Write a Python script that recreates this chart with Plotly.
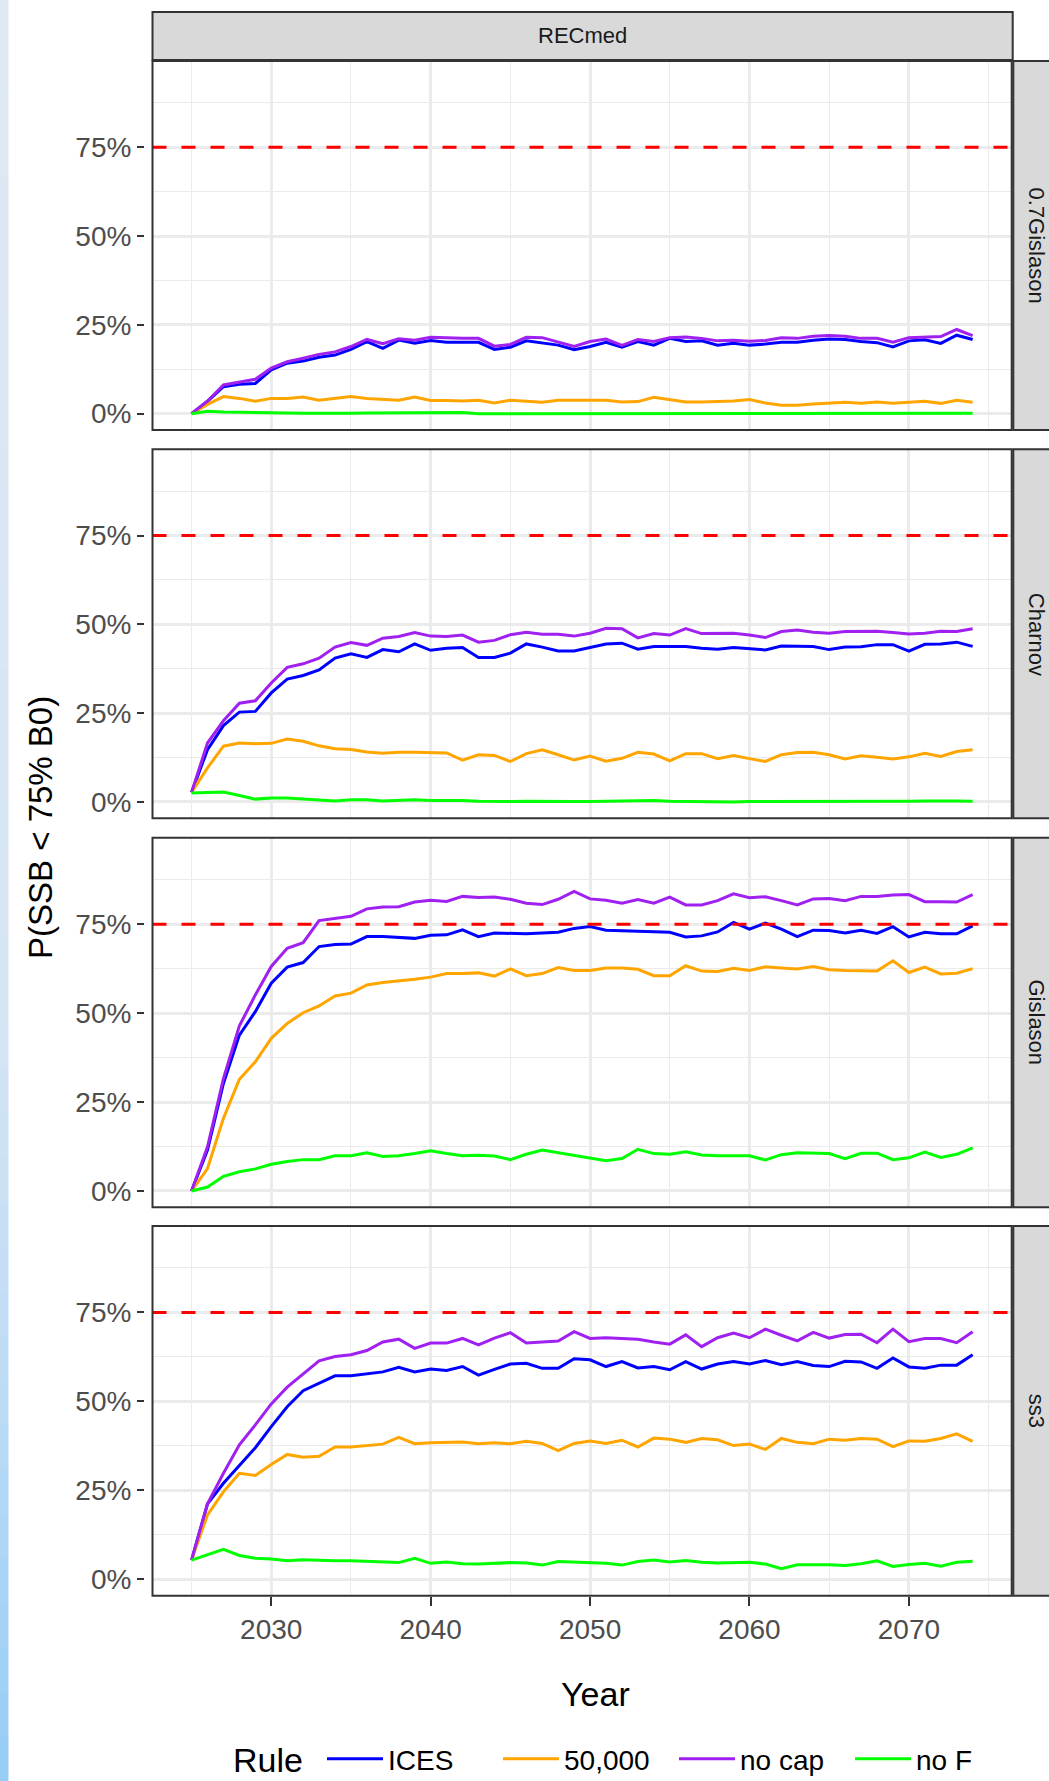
import plotly.graph_objects as go

# ---------------- data ----------------
YEARS = list(range(2025, 2075))
RULES = ["ICES", "50,000", "no cap", "no F"]
RULE_COLORS = ["#0000FF", "#FFA500", "#A020F0", "#00FF00"]
MODELS = ["0.7Gislason", "Charnov", "Gislason", "ss3"]
SCENARIO = "RECmed"
THRESHOLD = 0.75
X_TICKS = [2030, 2040, 2050, 2060, 2070]
Y_TICKS = [0, 0.25, 0.5, 0.75]

# values in percent, P(SSB < 75% B0)
g07_ices = [0, 3.5, 7.6, 8.3, 8.5, 12.3, 14.2, 14.8, 15.9, 16.5, 18.1, 20.3, 18.4, 20.7, 19.8, 20.6, 20.1, 20.0, 20.1, 18.1,
            18.7, 20.5, 19.8, 19.3, 18.0, 18.9, 20.1, 18.7, 20.3, 19.3, 21.2, 20.3, 20.5, 19.3, 19.8, 19.3, 19.6, 20.1, 20.1, 20.7,
            21.0, 20.9, 20.3, 20.0, 18.8, 20.5, 20.8, 19.8, 22.1, 20.9]
g07_50k = [0, 2.6, 4.8, 4.3, 3.5, 4.3, 4.3, 4.7, 3.8, 4.4, 4.8, 4.3, 4.0, 3.8, 4.7, 3.7, 3.7, 3.6, 3.8, 3.0,
           3.8, 3.6, 3.2, 3.8, 3.8, 4.0, 3.8, 3.3, 3.4, 4.6, 3.9, 3.3, 3.3, 3.4, 3.6, 4.0, 3.0, 2.4, 2.4, 2.7,
           3.0, 3.2, 2.9, 3.3, 2.9, 3.3, 3.5, 2.9, 3.8, 3.2]
g07_nocap = [0, 3.5, 8.1, 9.0, 9.7, 12.8, 14.6, 15.6, 16.7, 17.4, 18.9, 20.9, 19.7, 21.1, 20.7, 21.5, 21.3, 21.2, 21.2, 19.0,
             19.5, 21.5, 21.4, 20.1, 18.9, 20.3, 21.0, 19.2, 20.9, 20.3, 21.4, 21.6, 21.2, 20.5, 20.7, 20.4, 20.6, 21.4, 21.2, 21.8,
             22.0, 21.8, 21.2, 21.2, 20.1, 21.4, 21.6, 21.7, 23.7, 22.0]
g07_noF = [0, 0.7, 0.5, 0.4, 0.2, 0.2, 0.2, 0.1, 0.1, 0.0, 0.1, 0.2, 0.2, 0.2, 0.3, 0.1, 0.1, 0.3, 0.0, 0.0,
           0.0, 0.1, 0.0, 0.1, 0.0, 0.0, 0.0, 0.1, 0.1, 0.1, 0.0, 0.0, 0.0, 0.0, 0.1, 0.1, 0.0, 0.1, 0.0, 0.0,
           0.0, 0.0, 0.0, 0.0, 0.1, 0.0, 0.0, 0.1, 0.1, 0.1]

cha_ices = [2.7, 14.7, 21.5, 25.3, 25.5, 30.7, 34.6, 35.6, 37.2, 40.5, 41.7, 40.7, 42.9, 42.3, 44.5, 42.7, 43.3, 43.5, 40.7, 40.7,
            41.9, 44.5, 43.6, 42.5, 42.5, 43.6, 44.5, 44.7, 43.0, 43.8, 43.8, 43.8, 43.3, 43.0, 43.5, 43.2, 42.8, 43.9, 43.9, 43.8,
            42.9, 43.6, 43.7, 44.3, 44.3, 42.5, 44.4, 44.5, 45.0, 43.8]
cha_50k = [2.7, 9.6, 15.7, 16.6, 16.4, 16.5, 17.7, 17.1, 15.8, 15.0, 14.8, 14.1, 13.7, 14.0, 14.0, 13.8, 13.8, 11.8, 13.3, 13.1,
           11.4, 13.6, 14.7, 13.3, 11.8, 12.9, 11.5, 12.3, 14.0, 13.5, 11.6, 13.6, 13.6, 12.2, 13.1, 12.2, 11.4, 13.3, 13.9, 14.0,
           13.3, 12.1, 13.0, 12.6, 12.1, 12.7, 13.7, 12.8, 14.2, 14.7]
cha_nocap = [2.7, 16.6, 22.9, 27.8, 28.5, 33.5, 37.9, 38.9, 40.5, 43.6, 44.9, 44.1, 46.1, 46.6, 47.7, 46.7, 46.6, 47.0, 45.0, 45.5,
             47.1, 47.8, 47.2, 47.2, 46.7, 47.5, 48.9, 48.8, 46.2, 47.4, 47.0, 48.8, 47.4, 47.4, 47.5, 47.0, 46.3, 48.0, 48.4, 47.8,
             47.5, 48.0, 48.0, 48.1, 47.7, 47.3, 47.5, 48.1, 48.0, 48.8]
cha_noF = [2.5, 2.7, 2.8, 1.8, 0.8, 1.1, 1.1, 0.8, 0.6, 0.3, 0.6, 0.6, 0.3, 0.5, 0.6, 0.4, 0.5, 0.4, 0.2, 0.1,
           0.1, 0.2, 0.1, 0.0, 0.1, 0.1, 0.2, 0.2, 0.3, 0.4, 0.2, 0.1, 0.1, 0.1, 0.0, 0.1, 0.1, 0.0, 0.1, 0.1,
           0.1, 0.0, 0.0, 0.1, 0.1, 0.2, 0.3, 0.4, 0.3, 0.2]

gis_ices = [0, 11.5, 30.2, 43.8, 50.4, 58.4, 62.9, 64.2, 68.7, 69.3, 69.4, 71.5, 71.5, 71.3, 71.0, 71.9, 72.0, 73.4, 71.5, 72.5,
            72.3, 72.3, 72.5, 72.7, 73.8, 74.3, 73.3, 73.2, 73.1, 73.0, 72.7, 71.4, 71.7, 72.8, 75.5, 73.6, 75.3, 73.6, 71.5, 73.3,
            73.2, 72.5, 73.3, 72.4, 74.3, 71.4, 72.7, 72.3, 72.3, 74.5]
gis_50k = [0, 6.3, 20.4, 31.4, 36.3, 42.9, 47.1, 50.1, 52.0, 54.8, 55.6, 57.9, 58.6, 59.0, 59.5, 60.1, 61.1, 61.1, 61.3, 60.4,
           62.4, 60.5, 61.1, 62.8, 62.0, 62.0, 62.7, 62.7, 62.3, 60.5, 60.5, 63.3, 61.8, 61.7, 62.6, 62.0, 63.0, 62.7, 62.4, 63.1,
           62.2, 62.0, 62.0, 61.8, 64.7, 61.4, 62.9, 61.0, 61.2, 62.5]
gis_nocap = [0, 12.4, 31.6, 46.4, 55.1, 63.1, 68.2, 69.8, 76.0, 76.7, 77.2, 79.3, 79.8, 79.9, 81.2, 81.7, 81.4, 82.8, 82.5, 82.6,
             82.0, 80.9, 80.5, 82.0, 84.2, 82.1, 81.7, 80.9, 81.9, 80.9, 82.6, 80.4, 80.4, 81.6, 83.5, 82.4, 82.7, 81.6, 80.4, 82.1,
             82.2, 81.6, 82.8, 82.8, 83.2, 83.3, 81.3, 81.3, 81.2, 83.3]
gis_noF = [0, 1.1, 4.1, 5.4, 6.2, 7.5, 8.3, 8.8, 8.8, 9.9, 9.9, 10.7, 9.7, 9.9, 10.5, 11.3, 10.5, 9.9, 10.0, 9.8,
           8.8, 10.3, 11.5, 10.7, 9.9, 9.2, 8.5, 9.1, 11.7, 10.5, 10.3, 11.0, 10.1, 9.9, 9.8, 9.9, 8.7, 10.2, 10.7, 10.5,
           10.5, 9.1, 10.6, 10.6, 8.8, 9.3, 10.9, 9.4, 10.3, 12.1]

ss3_ices = [5.4, 21.2, 27.0, 32.0, 37.0, 42.9, 48.5, 53.0, 55.1, 57.2, 57.2, 57.7, 58.3, 59.6, 58.3, 59.1, 58.7, 59.8, 57.4, 59.0,
            60.5, 60.7, 59.3, 59.3, 62.0, 61.7, 59.8, 61.2, 59.4, 59.8, 58.9, 61.2, 59.1, 60.5, 61.2, 60.5, 61.5, 60.3, 61.2, 60.1,
            59.8, 61.3, 61.1, 59.3, 62.2, 59.7, 59.3, 60.2, 60.2, 63.1]
ss3_50k = [5.4, 18.1, 24.6, 29.8, 29.2, 32.3, 35.1, 34.3, 34.6, 37.2, 37.2, 37.5, 38.0, 39.9, 38.1, 38.4, 38.4, 38.6, 38.1, 38.4,
           38.1, 38.8, 38.2, 36.2, 38.2, 38.9, 38.2, 39.1, 37.2, 39.7, 39.4, 38.5, 39.6, 39.2, 37.6, 38.0, 36.5, 39.6, 38.5, 38.1,
           39.4, 39.1, 39.6, 39.4, 37.3, 38.9, 38.8, 39.6, 40.9, 38.8]
ss3_nocap = [5.4, 21.2, 29.8, 37.8, 43.4, 49.3, 54.0, 57.7, 61.4, 62.6, 63.1, 64.3, 66.7, 67.5, 64.9, 66.4, 66.4, 67.7, 65.9, 67.8,
             69.3, 66.4, 66.8, 67.0, 69.6, 67.7, 67.9, 67.8, 67.5, 66.7, 66.1, 68.7, 65.4, 67.9, 69.2, 67.9, 70.3, 68.6, 67.0, 69.4,
             67.8, 68.8, 68.9, 66.5, 70.3, 66.8, 67.7, 67.7, 66.5, 69.6]
ss3_noF = [5.4, 6.9, 8.4, 6.7, 5.9, 5.7, 5.2, 5.5, 5.3, 5.2, 5.2, 5.1, 4.9, 4.7, 5.9, 4.5, 4.9, 4.4, 4.3, 4.5,
           4.7, 4.6, 4.0, 5.0, 4.9, 4.8, 4.5, 4.0, 5.0, 5.4, 4.9, 5.3, 4.8, 4.6, 4.8, 4.8, 4.3, 3.0, 4.1, 4.2,
           4.1, 3.9, 4.4, 5.2, 3.6, 4.2, 4.5, 3.7, 4.8, 5.1]

SERIES = {
    "0.7Gislason": [g07_ices, g07_50k, g07_nocap, g07_noF],
    "Charnov": [cha_ices, cha_50k, cha_nocap, cha_noF],
    "Gislason": [gis_ices, gis_50k, gis_nocap, gis_noF],
    "ss3": [ss3_ices, ss3_50k, ss3_nocap, ss3_noF],
}

# ---------------- layout geometry ----------------
W, H = 1049, 1781
ML, MR, MT, MB = 144, 37, 61, 185
PW, PH = W - ML - MR, H - MT - MB


def fx(px):
    return (px - ML) / PW


def fy(py):
    return (H - MB - py) / PH


PANEL_TOP = [61, 449.3, 837.7, 1226]
PANEL_BOT = [430, 818.3, 1207.3, 1595.7]
XDOM = [fx(152.5), fx(1011.7)]
FONT = "Liberation Sans, Arial, Helvetica, sans-serif"
BORDER = "#333333"
GRID = "#EBEBEB"

fig = go.Figure()
shapes = []
annotations = []
layout_axes = {}

for k, model in enumerate(MODELS):
    sfx = "" if k == 0 else str(k + 1)
    xname, yname = "x" + sfx, "y" + sfx
    ydom = [fy(PANEL_BOT[k]), fy(PANEL_TOP[k])]
    bottom = k == len(MODELS) - 1
    layout_axes["xaxis" + sfx] = dict(
        domain=XDOM, anchor=yname, range=[2022.55, 2076.45],
        tickmode="array", tickvals=X_TICKS, ticktext=[str(t) for t in X_TICKS],
        showticklabels=bottom, ticks="outside" if bottom else "", ticklen=9, tickwidth=2, tickcolor=BORDER,
        tickfont=dict(size=28, color="#4D4D4D", family=FONT),
        showgrid=True, gridcolor=GRID, gridwidth=2.6,
        minor=dict(tickmode="linear", tick0=2025, dtick=10, showgrid=True, gridcolor=GRID, gridwidth=1.3),
        zeroline=False, showline=False,
        matches=None if k == 0 else "x",
    )
    layout_axes["yaxis" + sfx] = dict(
        domain=ydom, anchor="free", position=0, range=[-0.046, 0.993],
        tickmode="array", tickvals=Y_TICKS, tickformat=".0%",
        ticks="outside", ticklen=7, tickwidth=2, tickcolor=BORDER,
        tickfont=dict(size=28, color="#4D4D4D", family=FONT),
        showgrid=True, gridcolor=GRID, gridwidth=2.6,
        minor=dict(tickmode="linear", tick0=0.125, dtick=0.25, showgrid=True, gridcolor=GRID, gridwidth=1.3),
        zeroline=False, showline=False,
    )
    for rule, color, vals in zip(RULES, RULE_COLORS, SERIES[model]):
        fig.add_trace(go.Scatter(
            x=YEARS, y=[v / 100 for v in vals], mode="lines",
            line=dict(color=color, width=3),
            name=rule, legendgroup=rule, showlegend=(k == 0),
            xaxis=xname, yaxis=yname,
        ))
    # threshold line
    shapes.append(dict(type="line", xref=xname + " domain", yref=yname, x0=0, x1=1,
                       y0=THRESHOLD, y1=THRESHOLD, line=dict(color="#FF0000", width=3, dash="14px,15px"),
                       layer="above"))
    # panel border
    shapes.append(dict(type="rect", xref=xname + " domain", yref=yname + " domain", x0=0, x1=1, y0=0, y1=1,
                       line=dict(color=BORDER, width=2), fillcolor="rgba(0,0,0,0)", layer="above"))
    # right strip
    shapes.append(dict(type="rect", xref="paper", yref="paper", x0=fx(1013.3), x1=fx(1070),
                       y0=ydom[0], y1=ydom[1], line=dict(color=BORDER, width=2), fillcolor="#D9D9D9",
                       layer="below"))
    annotations.append(dict(text=model, xref="paper", yref="paper", x=fx(1036), y=(ydom[0] + ydom[1]) / 2,
                            showarrow=False, textangle=90, xanchor="center", yanchor="middle",
                            font=dict(size=22, color="#1A1A1A", family=FONT)))

# top strip
shapes.append(dict(type="rect", xref="paper", yref="paper", x0=XDOM[0], x1=fx(1012.7), y0=fy(60), y1=fy(12),
                   line=dict(color=BORDER, width=2), fillcolor="#D9D9D9", layer="below"))
annotations.append(dict(text=SCENARIO, xref="paper", yref="paper", x=(XDOM[0] + fx(1012.7)) / 2, y=fy(36),
                        showarrow=False, xanchor="center", yanchor="middle",
                        font=dict(size=22, color="#1A1A1A", family=FONT)))

# left light-blue band (screenshot edge)
band_stops = [(0, (222, 232, 243)), (1000, (214, 229, 244)), (1400, (188, 219, 245)), (1781, (150, 205, 245))]
nseg = 40
for i in range(nseg):
    y0p = H * i / nseg
    y1p = H * (i + 1) / nseg
    ym = (y0p + y1p) / 2
    for (a, ca), (b, cb) in zip(band_stops[:-1], band_stops[1:]):
        if a <= ym <= b:
            t = (ym - a) / (b - a)
            c = tuple(int(round(ca[j] + (cb[j] - ca[j]) * t)) for j in range(3))
            break
    shapes.append(dict(type="rect", xref="paper", yref="paper", x0=fx(0), x1=fx(8.5), y0=fy(y1p + 0.5),
                       y1=fy(y0p), line=dict(width=0), fillcolor="rgb(%d,%d,%d)" % c, layer="below"))

# axis titles
annotations.append(dict(text="P(SSB < 75% B0)", xref="paper", yref="paper", x=fx(40), y=fy(828),
                        showarrow=False, textangle=-90, xanchor="center", yanchor="middle",
                        font=dict(size=33, color="#000000", family=FONT)))
annotations.append(dict(text="Year", xref="paper", yref="paper", x=fx(595), y=fy(1694),
                        showarrow=False, xanchor="center", yanchor="middle",
                        font=dict(size=34, color="#000000", family=FONT)))
# legend title
annotations.append(dict(text="Rule", xref="paper", yref="paper", x=fx(231), y=fy(1760),
                        showarrow=False, xanchor="left", yanchor="middle",
                        font=dict(size=34, color="#000000", family=FONT)))

fig.update_layout(
    width=W, height=H,
    margin=dict(l=ML, r=MR, t=MT, b=MB, autoexpand=False),
    paper_bgcolor="white", plot_bgcolor="white",
    font=dict(family=FONT),
    showlegend=True,
    legend=dict(
        orientation="h", xref="container", yref="container",
        x=322 / W, xanchor="left", y=(H - 1759) / H, yanchor="middle",
        font=dict(size=28, color="#000000", family=FONT),
        itemwidth=56, entrywidthmode="pixels", entrywidth=105,
        bgcolor="rgba(0,0,0,0)",
    ),
    shapes=shapes,
    annotations=annotations,
    **layout_axes,
)

fig.write_html("out.html")
